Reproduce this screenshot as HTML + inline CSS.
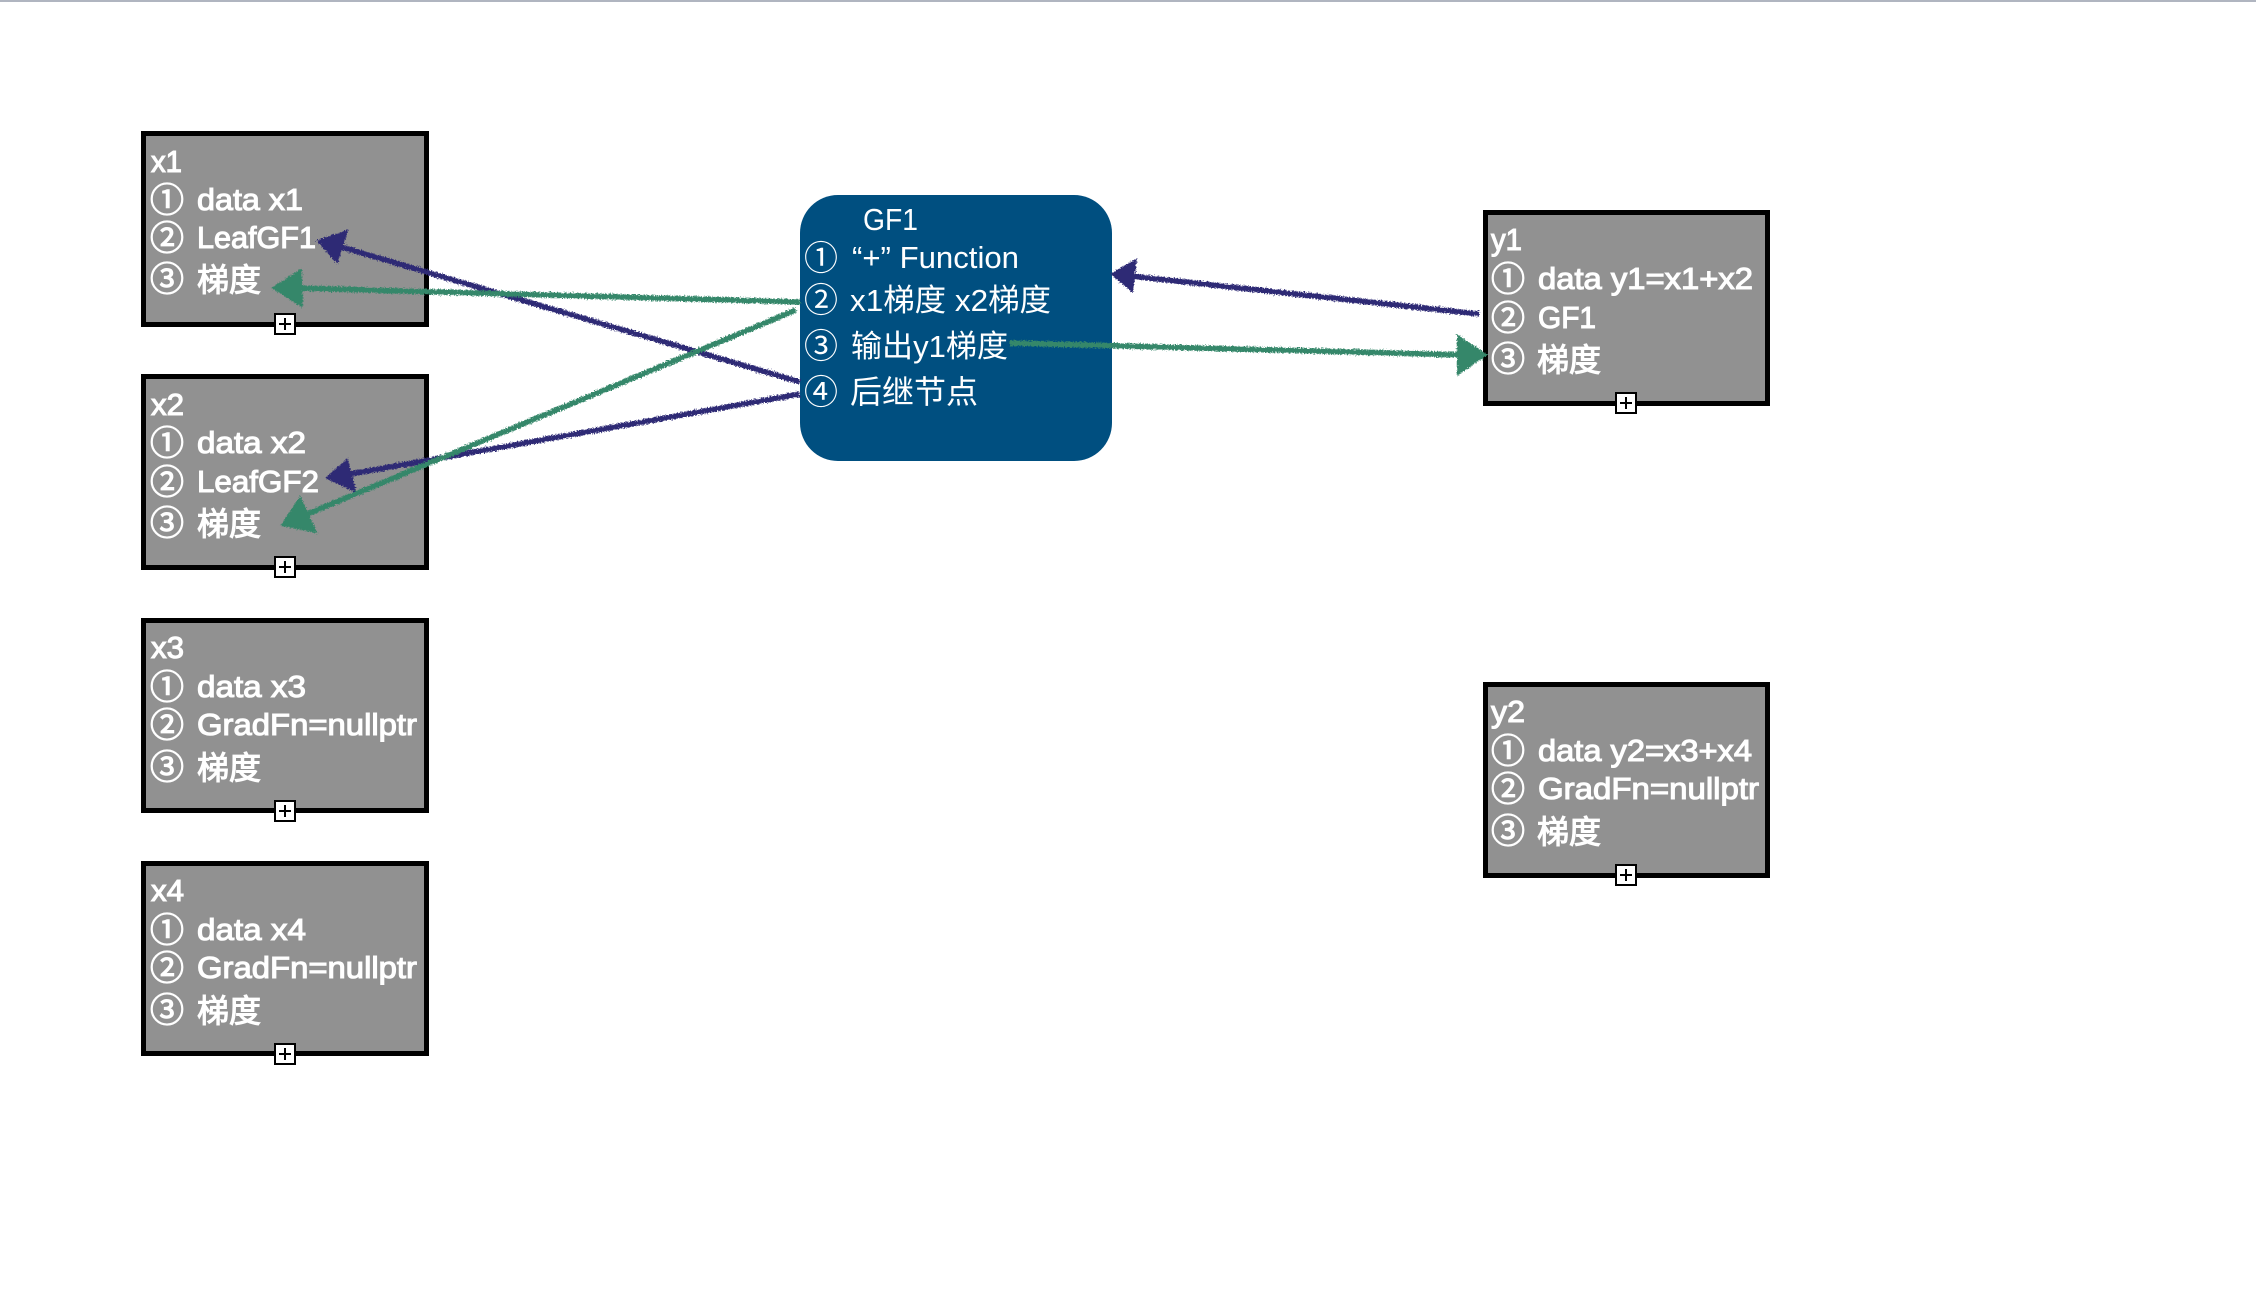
<!DOCTYPE html>
<html>
<head>
<meta charset="utf-8">
<style>
html,body{margin:0;padding:0;background:#fff;width:2256px;height:1312px;overflow:hidden}
svg{display:block;position:absolute;left:0;top:0}
text{font-family:"Liberation Sans","Noto Sans CJK SC",sans-serif;font-size:31px;fill:#fff}
text.c{font-size:34px}
text.z{font-size:32px}
.b text{stroke:#fff;stroke-width:1.1px}
.box{fill:#919191;stroke:#000;stroke-width:5}
.plus{fill:#fff;stroke:#000;stroke-width:2}
.pl{stroke:#000;stroke-width:2;fill:none}
.pu line{stroke:#2e2a74;stroke-width:5.5}
.pu polygon{fill:#2e2a74;stroke:#2e2a74;stroke-width:2}
.gr line{stroke:#36876a;stroke-width:5.5}
.gr polygon{fill:#36876a;stroke:#36876a;stroke-width:2}
</style>
</head>
<body>
<svg width="2256" height="1312" viewBox="0 0 2256 1312" xmlns="http://www.w3.org/2000/svg">
<defs>
<filter id="rough" x="-5%" y="-5%" width="110%" height="110%" filterUnits="objectBoundingBox">
<feTurbulence type="fractalNoise" baseFrequency="0.7" numOctaves="2" seed="4"/>
<feDisplacementMap in="SourceGraphic" scale="5" xChannelSelector="R" yChannelSelector="G"/>
</filter>
</defs>
<rect x="0" y="0" width="2256" height="2" fill="#b0b5c0"/>

<!-- x1 -->
<g class="b" transform="translate(141,131)">
<rect class="box" x="2.5" y="2.5" width="283" height="191"/>
<text x="10" y="41" textLength="31" lengthAdjust="spacingAndGlyphs">x1</text>
<text class="c" x="9" y="81">①</text><text x="56" y="79" textLength="106" lengthAdjust="spacingAndGlyphs">data x1</text>
<text class="c" x="9" y="119">②</text><text x="56" y="117" textLength="119" lengthAdjust="spacingAndGlyphs">LeafGF1</text>
<text class="c" x="9" y="160">③</text><text class="z" x="56" y="160">梯度</text>
<rect class="plus" x="134" y="183" width="20" height="20"/><path class="pl" d="M138 193H150M144 187V199"/>
</g>
<!-- x2 -->
<g class="b" transform="translate(141,374)">
<rect class="box" x="2.5" y="2.5" width="283" height="191"/>
<text x="10" y="41" textLength="33" lengthAdjust="spacingAndGlyphs">x2</text>
<text class="c" x="9" y="81">①</text><text x="56" y="79" textLength="109" lengthAdjust="spacingAndGlyphs">data x2</text>
<text class="c" x="9" y="120">②</text><text x="56" y="118" textLength="122" lengthAdjust="spacingAndGlyphs">LeafGF2</text>
<text class="c" x="9" y="161">③</text><text class="z" x="56" y="161">梯度</text>
<rect class="plus" x="134" y="183" width="20" height="20"/><path class="pl" d="M138 193H150M144 187V199"/>
</g>
<!-- x3 -->
<g class="b" transform="translate(141,618)">
<rect class="box" x="2.5" y="2.5" width="283" height="190"/>
<text x="10" y="40" textLength="33" lengthAdjust="spacingAndGlyphs">x3</text>
<text class="c" x="9" y="81">①</text><text x="56" y="79" textLength="109" lengthAdjust="spacingAndGlyphs">data x3</text>
<text class="c" x="9" y="119">②</text><text x="56" y="117" textLength="220" lengthAdjust="spacingAndGlyphs">GradFn=nullptr</text>
<text class="c" x="9" y="161">③</text><text class="z" x="56" y="161">梯度</text>
<rect class="plus" x="134" y="183" width="20" height="20"/><path class="pl" d="M138 193H150M144 187V199"/>
</g>
<!-- x4 -->
<g class="b" transform="translate(141,861)">
<rect class="box" x="2.5" y="2.5" width="283" height="190"/>
<text x="10" y="40" textLength="33" lengthAdjust="spacingAndGlyphs">x4</text>
<text class="c" x="9" y="81">①</text><text x="56" y="79" textLength="109" lengthAdjust="spacingAndGlyphs">data x4</text>
<text class="c" x="9" y="119">②</text><text x="56" y="117" textLength="220" lengthAdjust="spacingAndGlyphs">GradFn=nullptr</text>
<text class="c" x="9" y="161">③</text><text class="z" x="56" y="161">梯度</text>
<rect class="plus" x="134" y="183" width="20" height="20"/><path class="pl" d="M138 193H150M144 187V199"/>
</g>
<!-- y1 -->
<g class="b" transform="translate(1483,210)">
<rect class="box" x="2.5" y="2.5" width="282" height="191"/>
<text x="8" y="40" textLength="31" lengthAdjust="spacingAndGlyphs">y1</text>
<text class="c" x="8" y="81">①</text><text x="55" y="79" textLength="215" lengthAdjust="spacingAndGlyphs">data y1=x1+x2</text>
<text class="c" x="8" y="120">②</text><text x="55" y="118" textLength="58" lengthAdjust="spacingAndGlyphs">GF1</text>
<text class="c" x="8" y="161">③</text><text class="z" x="54" y="161">梯度</text>
<rect class="plus" x="133" y="183" width="20" height="20"/><path class="pl" d="M137 193H149M143 187V199"/>
</g>
<!-- y2 -->
<g class="b" transform="translate(1483,682)">
<rect class="box" x="2.5" y="2.5" width="282" height="191"/>
<text x="8" y="40" textLength="34" lengthAdjust="spacingAndGlyphs">y2</text>
<text class="c" x="8" y="81">①</text><text x="55" y="79" textLength="214" lengthAdjust="spacingAndGlyphs">data y2=x3+x4</text>
<text class="c" x="8" y="119">②</text><text x="55" y="117" textLength="221" lengthAdjust="spacingAndGlyphs">GradFn=nullptr</text>
<text class="c" x="8" y="161">③</text><text class="z" x="54" y="161">梯度</text>
<rect class="plus" x="133" y="183" width="20" height="20"/><path class="pl" d="M137 193H149M143 187V199"/>
</g>

<!-- GF1 -->
<rect x="800" y="195" width="312" height="266" rx="38" ry="38" fill="#004f80"/>
<g>
<text x="863" y="230" textLength="55" lengthAdjust="spacingAndGlyphs">GF1</text>
<text class="c" x="804" y="270">①</text><text x="852" y="268" textLength="167" lengthAdjust="spacingAndGlyphs">“+” Function</text>
<text class="c" x="804" y="312">②</text><text x="850" y="311" textLength="201" lengthAdjust="spacingAndGlyphs">x1梯度 x2梯度</text>
<text class="c" x="804" y="358">③</text><text x="851" y="357" textLength="157" lengthAdjust="spacingAndGlyphs">输出y1梯度</text>
<text class="c" x="804" y="404">④</text><text class="z" x="850" y="403">后继节点</text>
</g>

<!-- connectors -->
<g filter="url(#rough)">
<g class="pu">
<line x1="800" y1="382" x2="338" y2="246"/>
<polygon points="318,241 347,231 337,262"/>
<line x1="800" y1="394" x2="345" y2="475"/>
<polygon points="327,478 347,460 355,491"/>
<line x1="1479" y1="314" x2="1130" y2="276"/>
<polygon points="1112,274 1136,260 1132,291"/>
</g>
<g class="gr">
<line x1="800" y1="302" x2="295" y2="288"/>
<polygon points="273,288 301,270 302,306"/>
<line x1="796" y1="310" x2="305" y2="515"/>
<polygon points="282,525 300,498 316,532"/>
<line x1="1010" y1="343" x2="1465" y2="355"/>
<polygon points="1486,355 1458,336 1458,374"/>
</g>
</g>
</svg>
</body>
</html>
